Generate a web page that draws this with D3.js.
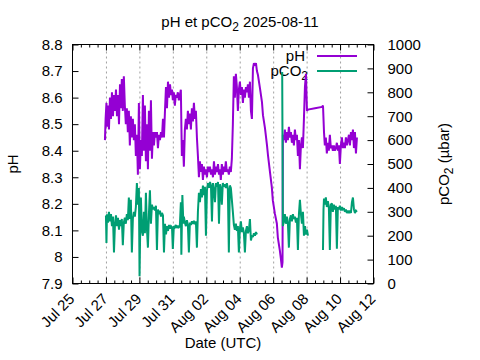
<!DOCTYPE html>
<html><head><meta charset="utf-8">
<script src="https://cdn.jsdelivr.net/npm/d3@7"></script>
<style>
body{margin:0;background:#fff}
svg{display:block}
text{font-family:"Liberation Sans",Arial,Helvetica,sans-serif;}
</style>
</head><body>
<svg id="c" width="480" height="360"></svg>
<script>
// ---- data ----
const startDay = "2025-07-25";   // day offsets below are days since this date (UTC)
const endDay = "2025-08-12";
const xTickLabels = ["Jul 25","Jul 27","Jul 29","Jul 31","Aug 02","Aug 04","Aug 06","Aug 08","Aug 10","Aug 12"];
const phTicks = [7.9,8.0,8.1,8.2,8.3,8.4,8.5,8.6,8.7,8.8];
const pco2Ticks = [0,100,200,300,400,500,600,700,800,900,1000];
const seriesNames = ["pH","pCO2"];

// [day offset, pH]
const phData = [
[1.94,8.44],[1.98,8.52],[2.03,8.58],[2.07,8.49],[2.12,8.57],[2.18,8.48],[2.24,8.60],[2.30,8.52],[2.36,8.62],[2.42,8.53],
[2.48,8.61],[2.54,8.55],[2.60,8.63],[2.66,8.53],[2.72,8.61],[2.78,8.50],[2.84,8.65],[2.89,8.56],[2.95,8.67],[3.01,8.55],
[3.07,8.68],[3.13,8.57],[3.19,8.50],[3.25,8.56],[3.31,8.47],[3.37,8.55],[3.43,8.42],[3.49,8.53],[3.55,8.45],[3.61,8.52],
[3.67,8.44],[3.73,8.50],[3.79,8.38],[3.85,8.46],[3.91,8.31],[3.97,8.58],[4.03,8.33],[4.09,8.44],[4.15,8.38],[4.21,8.61],
[4.27,8.40],[4.33,8.57],[4.39,8.36],[4.45,8.50],[4.51,8.33],[4.57,8.55],[4.63,8.40],[4.69,8.59],[4.75,8.37],[4.81,8.47],
[4.87,8.42],[4.93,8.47],[4.99,8.45],[5.05,8.47],[5.11,8.41],[5.17,8.46],[5.23,8.44],[5.29,8.47],[5.35,8.45],[5.41,8.52],
[5.47,8.45],[5.53,8.55],[5.59,8.64],[5.65,8.56],[5.71,8.66],[5.77,8.60],[5.83,8.65],[5.89,8.61],[5.95,8.63],[6.00,8.59],
[6.06,8.62],[6.12,8.57],[6.18,8.61],[6.24,8.60],[6.30,8.62],[6.36,8.59],[6.42,8.61],[6.48,8.63],[6.51,8.50],[6.54,8.38],
[6.60,8.44],[6.66,8.34],[6.72,8.48],[6.78,8.52],[6.84,8.48],[6.90,8.55],[6.96,8.50],[7.02,8.54],[7.08,8.48],[7.14,8.56],
[7.20,8.51],[7.26,8.58],[7.32,8.52],[7.38,8.55],[7.44,8.45],[7.50,8.38],[7.56,8.30],[7.62,8.36],[7.68,8.32],[7.74,8.35],
[7.80,8.29],[7.86,8.34],[7.92,8.31],[7.98,8.33],[8.04,8.30],[8.10,8.34],[8.16,8.32],[8.22,8.34],[8.28,8.31],[8.34,8.33],
[8.40,8.30],[8.46,8.36],[8.52,8.31],[8.58,8.34],[8.64,8.32],[8.70,8.35],[8.76,8.31],[8.82,8.33],[8.87,8.29],[8.93,8.35],
[8.99,8.31],[9.05,8.34],[9.11,8.32],[9.17,8.36],[9.23,8.32],[9.29,8.33],[9.35,8.31],[9.41,8.34],[9.47,8.32],[9.53,8.37],
[9.59,8.50],[9.65,8.68],[9.71,8.60],[9.77,8.69],[9.83,8.64],[9.89,8.55],[9.95,8.63],[10.01,8.66],[10.07,8.61],[10.13,8.64],
[10.19,8.58],[10.25,8.63],[10.31,8.60],[10.37,8.64],[10.43,8.62],[10.49,8.65],[10.55,8.60],[10.61,8.66],[10.67,8.55],[10.73,8.52],
[10.79,8.71],[10.85,8.73],[10.91,8.72],[10.97,8.73],[11.03,8.70],[11.09,8.685],[11.21,8.636],[11.33,8.583],[11.39,8.534],[11.51,8.485],
[11.63,8.421],[11.69,8.383],[11.81,8.319],[11.92,8.262],[11.98,8.213],[12.10,8.164],[12.22,8.126],[12.28,8.073],[12.40,8.024],[12.46,7.994],
[12.52,7.96],[12.56,7.98],[12.58,8.46],[12.64,8.44],[12.70,8.48],[12.76,8.43],[12.82,8.47],[12.88,8.44],[12.94,8.49],[13.00,8.45],
[13.06,8.47],[13.12,8.43],[13.18,8.46],[13.24,8.42],[13.30,8.48],[13.36,8.44],[13.42,8.46],[13.48,8.38],[13.54,8.44],[13.60,8.33],
[13.66,8.42],[13.72,8.45],[13.78,8.41],[13.84,8.52],[13.90,8.64],[13.96,8.69],[14.00,8.60],[14.02,8.55],[14.08,8.555],[14.50,8.56],
[14.92,8.565],[14.98,8.57],[15.04,8.47],[15.09,8.42],[15.15,8.45],[15.21,8.39],[15.27,8.43],[15.33,8.40],[15.39,8.46],[15.45,8.41],
[15.51,8.42],[15.57,8.40],[15.63,8.42],[15.69,8.40],[15.75,8.41],[15.81,8.43],[15.87,8.40],[15.93,8.42],[15.99,8.35],[16.05,8.42],
[16.11,8.45],[16.17,8.41],[16.23,8.43],[16.29,8.41],[16.35,8.45],[16.41,8.42],[16.47,8.44],[16.53,8.46],[16.59,8.42],[16.65,8.47],
[16.71,8.44],[16.77,8.48],[16.83,8.41],[16.89,8.47],[16.95,8.39],[17.01,8.45]
];

// [day offset, pCO2 µbar]; null = no data (gap)
const pco2Data = [
[2.00,285],[2.03,170],[2.06,290],[2.12,255],[2.18,300],[2.24,260],[2.30,290],[2.36,240],[2.42,280],[2.48,130],
[2.54,250],[2.60,285],[2.66,240],[2.72,275],[2.78,225],[2.84,265],[2.89,240],[2.95,270],[3.01,160],[3.07,255],
[3.13,275],[3.19,250],[3.25,290],[3.31,265],[3.37,360],[3.43,270],[3.49,350],[3.55,130],[3.61,270],[3.67,300],
[3.73,280],[3.79,320],[3.85,420],[3.91,330],[3.97,400],[4.01,30],[4.06,280],[4.09,360],[4.15,220],[4.21,200],
[4.27,300],[4.33,210],[4.39,380],[4.45,230],[4.51,150],[4.57,290],[4.63,390],[4.69,250],[4.75,330],[4.81,310],
[4.87,320],[4.93,305],[4.99,325],[5.05,140],[5.11,310],[5.17,290],[5.23,305],[5.29,280],[5.35,295],[5.41,285],
[5.47,130],[5.53,250],[5.59,205],[5.65,240],[5.71,220],[5.77,245],[5.83,230],[5.89,240],[5.95,235],[6.00,145],
[6.06,240],[6.12,235],[6.18,245],[6.24,232],[6.30,242],[6.36,235],[6.42,240],[6.48,340],[6.51,120],[6.57,370],
[6.63,250],[6.66,280],[6.72,255],[6.78,240],[6.84,265],[6.90,245],[6.96,130],[7.02,255],[7.08,245],[7.14,260],
[7.20,250],[7.26,262],[7.32,248],[7.38,260],[7.44,150],[7.50,300],[7.56,380],[7.62,340],[7.68,395],[7.74,360],
[7.80,410],[7.86,370],[7.92,405],[7.98,200],[8.04,390],[8.10,420],[8.16,400],[8.22,425],[8.28,410],[8.34,260],
[8.40,420],[8.46,395],[8.52,340],[8.58,420],[8.64,405],[8.70,425],[8.76,250],[8.82,415],[8.87,400],[8.93,330],
[8.99,420],[9.05,405],[9.11,415],[9.17,400],[9.23,420],[9.29,395],[9.35,130],[9.41,410],[9.47,400],[9.53,350],
[9.59,300],[9.65,245],[9.71,225],[9.77,250],[9.83,220],[9.89,240],[9.95,130],[10.01,230],[10.07,260],[10.13,215],
[10.19,235],[10.25,210],[10.31,130],[10.37,220],[10.43,240],[10.49,210],[10.55,225],[10.61,270],[10.67,180],[10.73,200],
[10.79,195],[10.85,210],[10.91,200],[10.97,215],[11.03,205],[11.5,null],
[12.54,885],[12.58,240],[12.64,260],[12.70,290],[12.76,250],[12.82,280],[12.88,255],[12.94,150],[13.00,270],[13.06,285],
[13.12,260],[13.18,290],[13.24,270],[13.30,280],[13.36,255],[13.42,275],[13.48,140],[13.54,290],[13.60,350],[13.66,290],
[13.72,250],[13.78,300],[13.84,200],[13.90,240],[13.96,205],[14.02,225],[14.08,200],[14.5,null],
[14.98,140],[15.01,310],[15.04,355],[15.09,330],[15.15,360],[15.21,320],[15.27,345],[15.33,320],[15.39,140],[15.45,330],
[15.51,335],[15.57,300],[15.63,330],[15.69,310],[15.75,325],[15.81,145],[15.87,320],[15.93,310],[15.99,325],[16.05,305],
[16.11,320],[16.17,310],[16.23,315],[16.29,300],[16.35,310],[16.41,295],[16.47,305],[16.53,295],[16.59,305],[16.65,295],
[16.71,340],[16.77,360],[16.83,310],[16.89,295],[16.95,305],[17.01,300]
];

// ---- layout ----
const L = 72.5, R = 373.5, T = 44.5, B = 283.5;
const FS = 15;
const colPH = "#9400d3", colCO2 = "#009e73";

const svg = d3.select("#c");
const t0 = new Date(startDay + "T00:00:00Z");
const t1 = new Date(endDay + "T00:00:00Z");
const toDate = d => new Date(t0.getTime() + d * 864e5);

const x = d3.scaleUtc().domain([t0, t1]).range([L, R]);
const yL = d3.scaleLinear().domain([phTicks[0], phTicks[phTicks.length-1]]).range([B, T]);
const yR = d3.scaleLinear().domain([pco2Ticks[0], pco2Ticks[pco2Ticks.length-1]]).range([B, T]);

const majorDates = xTickLabels.map((_, i) => toDate(i * 2));
const minorDates = d3.utcHour.every(12).range(t0, new Date(t1.getTime() + 1)).filter(d => (d - t0) % (2*864e5) !== 0);

function black(g){ g.select(".domain").remove(); g.selectAll("line").attr("stroke", "#000"); }

// grid (dashed vertical at major ticks)
svg.append("g").attr("transform", `translate(0,${B})`)
  .call(d3.axisBottom(x).tickValues(majorDates.slice(1, -1)).tickSize(-(B - T)).tickFormat(""))
  .call(g => g.select(".domain").remove())
  .call(g => g.selectAll("line").attr("stroke", "#a0a0a0").attr("stroke-dasharray", "2,3").attr("stroke-width", 1));

// minor x ticks bottom & top
svg.append("g").attr("transform", `translate(0,${B})`)
  .call(d3.axisBottom(x).tickValues(minorDates).tickSize(-3).tickFormat("")).call(black);
svg.append("g").attr("transform", `translate(0,${T})`)
  .call(d3.axisTop(x).tickValues(minorDates).tickSize(-3).tickFormat("")).call(black);

// major x ticks top
svg.append("g").attr("transform", `translate(0,${T})`)
  .call(d3.axisTop(x).tickValues(majorDates).tickSize(-6).tickFormat("")).call(black);

// bottom axis with rotated labels
const xAxisG = svg.append("g").attr("transform", `translate(0,${B})`)
  .call(d3.axisBottom(x).tickValues(majorDates).tickSize(-6).tickFormat((d, i) => xTickLabels[i])).call(black);
xAxisG.attr("font-size", FS).attr("font-family", null);
xAxisG.selectAll("text")
  .attr("y", 0).attr("dy", "0.32em").attr("x", 0)
  .attr("text-anchor", "end")
  .attr("transform", "translate(-1,13) rotate(-45)");

// left axis (pH)
const yAxisG = svg.append("g").attr("transform", `translate(${L},0)`)
  .call(d3.axisLeft(yL).tickValues(phTicks).tickSize(-6).tickPadding(10).tickFormat(d3.format("~g"))).call(black);
yAxisG.attr("font-size", FS).attr("font-family", null);

// right axis (pCO2)
const y2AxisG = svg.append("g").attr("transform", `translate(${R},0)`)
  .call(d3.axisRight(yR).tickValues(pco2Ticks).tickSize(-6).tickPadding(14).tickFormat(d3.format("d"))).call(black);
y2AxisG.attr("font-size", FS).attr("font-family", null);

// border
svg.append("rect").attr("x", L).attr("y", T).attr("width", R - L).attr("height", B - T)
  .attr("fill", "none").attr("stroke", "#000").attr("stroke-width", 1);

// title
const title = svg.append("text").attr("x", 240).attr("y", 27).attr("text-anchor", "middle").attr("font-size", FS);
title.append("tspan").text("pH et pCO");
title.append("tspan").attr("font-size", FS * 0.8).attr("dy", 4).text("2");
title.append("tspan").attr("dy", -4).text(" 2025-08-11");

// axis labels
svg.append("text").attr("x", (L + R) / 2).attr("y", 348).attr("text-anchor", "middle").attr("font-size", FS).text("Date (UTC)");
svg.append("text").attr("transform", `translate(18,${(T + B) / 2}) rotate(-90)`).attr("text-anchor", "middle").attr("font-size", FS).text("pH");
const rl = svg.append("text").attr("transform", `translate(449,${(T + B) / 2}) rotate(-90)`).attr("text-anchor", "middle").attr("font-size", FS);
rl.append("tspan").text("pCO");
rl.append("tspan").attr("font-size", FS * 0.8).attr("dy", 4).text("2");
rl.append("tspan").attr("dy", -4).text(" (µbar)");

// legend
const lg = svg.append("g");
lg.append("text").attr("x", 305).attr("y", 61).attr("text-anchor", "end").attr("font-size", FS).text(seriesNames[0]);
lg.append("line").attr("x1", 317).attr("x2", 357).attr("y1", 56).attr("y2", 56).attr("stroke", colPH).attr("stroke-width", 2);
const lt2 = lg.append("text").attr("x", 308).attr("y", 76).attr("text-anchor", "end").attr("font-size", FS);
lt2.append("tspan").text("pCO");
lt2.append("tspan").attr("font-size", FS * 0.8).attr("dy", 4).text("2");
lg.append("line").attr("x1", 317).attr("x2", 357).attr("y1", 71).attr("y2", 71).attr("stroke", colCO2).attr("stroke-width", 2);

// series
const linePH = d3.line().x(d => x(toDate(d[0]))).y(d => yL(d[1]));
const lineCO2 = d3.line().defined(d => d[1] !== null).x(d => x(toDate(d[0]))).y(d => yR(d[1]));
svg.append("path").datum(phData).attr("d", linePH).attr("fill", "none")
  .attr("stroke", colPH).attr("stroke-width", 2).attr("stroke-linejoin", "miter").attr("stroke-miterlimit", 2);
svg.append("path").datum(pco2Data).attr("d", lineCO2).attr("fill", "none")
  .attr("stroke", colCO2).attr("stroke-width", 2).attr("stroke-linejoin", "miter").attr("stroke-miterlimit", 2);
</script>
</body></html>
